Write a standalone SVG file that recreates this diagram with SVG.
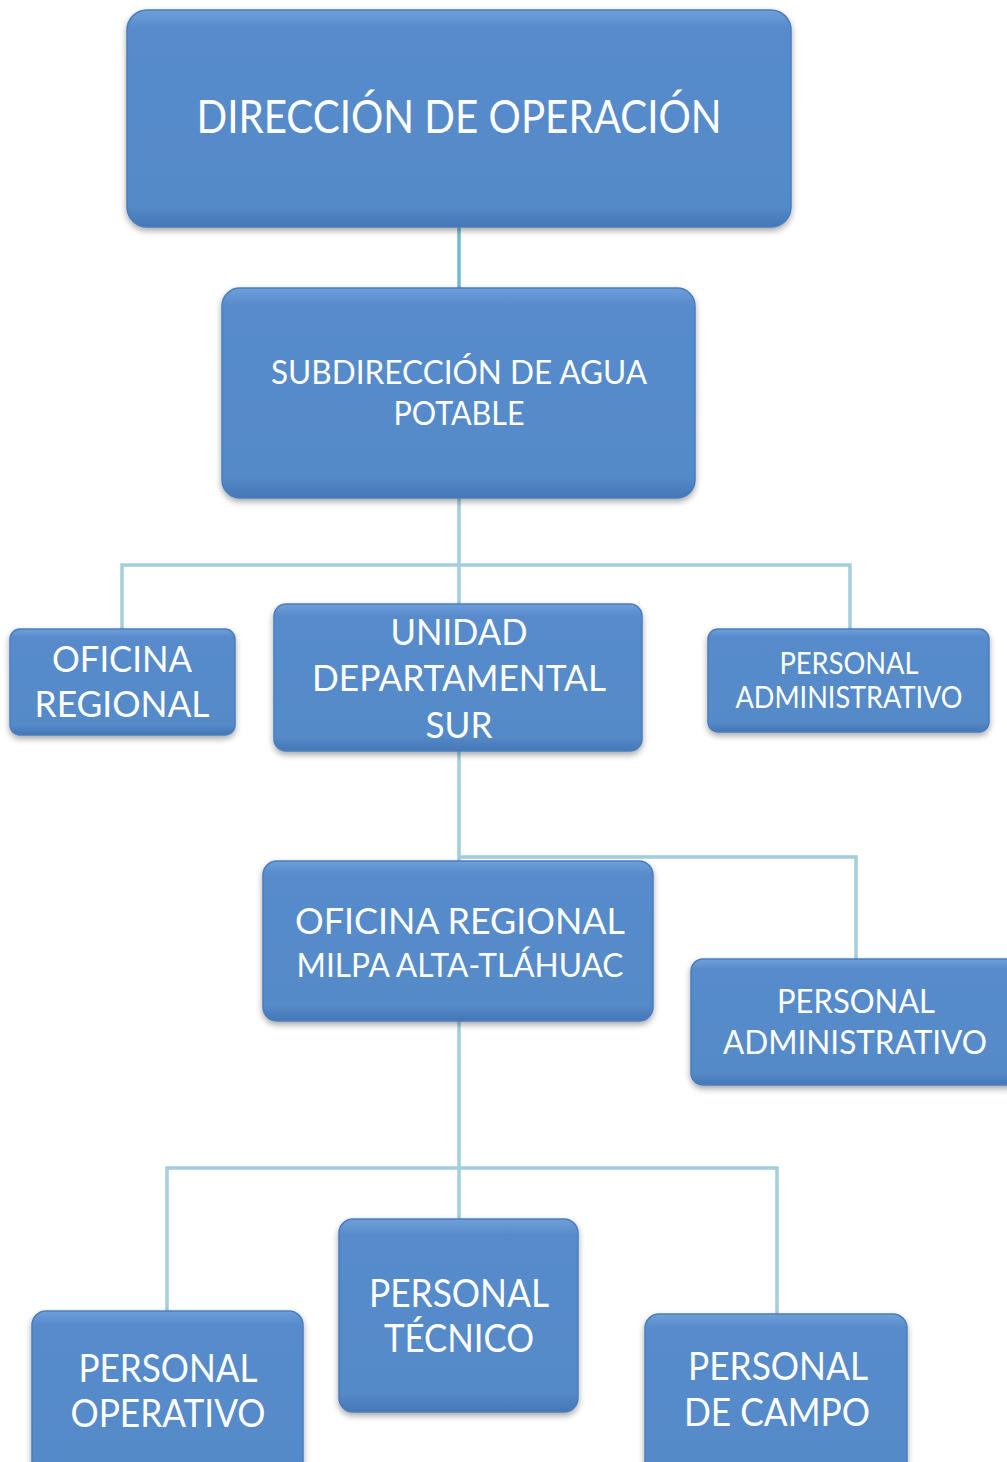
<svg xmlns="http://www.w3.org/2000/svg" width="1007" height="1462" viewBox="0 0 1007 1462">
<defs>
<linearGradient id="g" x1="0" y1="0" x2="0" y2="1">
<stop offset="0" stop-color="#6f9fda"/>
<stop offset="0.08" stop-color="#588bcb"/>
<stop offset="0.9" stop-color="#558ac9"/>
<stop offset="1" stop-color="#4676b5"/>
</linearGradient>
<filter id="sh" x="-10%" y="-10%" width="120%" height="130%">
<feDropShadow dx="0" dy="3" stdDeviation="3" flood-color="#000" flood-opacity="0.35"/>
</filter>
</defs>
<style>
.box{fill:url(#g);stroke:#4a7dbd;stroke-width:1.5;filter:url(#sh)}
.t{fill:#fff;font-family:Lato,"Open Sans","Liberation Sans",sans-serif;text-anchor:middle}
.c{fill:none;stroke:#a3cedd;stroke-width:3.5}
</style>
<rect width="1007" height="1462" fill="#fff"/>
<g id="connectors">
<path class="c" style="stroke:#6fbccc" d="M459 227V288"/>
<path class="c" d="M459 498V604M122 629V565H850V629"/>
<path class="c" d="M459 751V861M459 857H856V959"/>
<path class="c" d="M459 1021V1219M167 1311V1168H777V1314"/>
</g>
<g id="n1"><rect class="box" x="127" y="10" width="664" height="217" rx="20"/>
<text class="t" x="459" y="133" font-size="46" textLength="525" lengthAdjust="spacingAndGlyphs">DIRECCIÓN DE OPERACIÓN</text></g>
<g id="n2"><rect class="box" x="222" y="288" width="473" height="210" rx="18"/>
<text class="t" x="459" y="384" font-size="32" textLength="376" lengthAdjust="spacingAndGlyphs">SUBDIRECCIÓN DE AGUA</text>
<text class="t" x="459" y="425" font-size="32" textLength="131" lengthAdjust="spacingAndGlyphs">POTABLE</text></g>
<g id="n3"><rect class="box" x="10" y="629" width="225" height="106" rx="10"/>
<text class="t" x="122" y="672" font-size="36" textLength="140" lengthAdjust="spacingAndGlyphs">OFICINA</text>
<text class="t" x="122" y="717" font-size="36" textLength="175" lengthAdjust="spacingAndGlyphs">REGIONAL</text></g>
<g id="n4"><rect class="box" x="274" y="604" width="368" height="147" rx="12"/>
<text class="t" x="459" y="645" font-size="36" textLength="137" lengthAdjust="spacingAndGlyphs">UNIDAD</text>
<text class="t" x="459" y="691" font-size="36" textLength="294" lengthAdjust="spacingAndGlyphs">DEPARTAMENTAL</text>
<text class="t" x="459" y="738" font-size="36" textLength="67" lengthAdjust="spacingAndGlyphs">SUR</text></g>
<g id="n5"><rect class="box" x="708" y="629" width="281" height="103" rx="10"/>
<text class="t" x="849" y="674" font-size="30" textLength="139" lengthAdjust="spacingAndGlyphs">PERSONAL</text>
<text class="t" x="849" y="708" font-size="30" textLength="227" lengthAdjust="spacingAndGlyphs">ADMINISTRATIVO</text></g>
<g id="n6"><rect class="box" x="263" y="861" width="390" height="160" rx="14"/>
<text class="t" x="460" y="934" font-size="36" textLength="330" lengthAdjust="spacingAndGlyphs">OFICINA REGIONAL</text>
<text class="t" x="460" y="977" font-size="33" textLength="327" lengthAdjust="spacingAndGlyphs">MILPA ALTA-TLÁHUAC</text></g>
<g id="n7"><rect class="box" x="691" y="959" width="330" height="126" rx="12"/>
<text class="t" x="856" y="1013" font-size="32" textLength="158" lengthAdjust="spacingAndGlyphs">PERSONAL</text>
<text class="t" x="855" y="1054" font-size="32" textLength="264" lengthAdjust="spacingAndGlyphs">ADMINISTRATIVO</text></g>
<g id="n8"><rect class="box" x="32" y="1311" width="271" height="170" rx="14"/>
<text class="t" x="168" y="1382" font-size="38" textLength="179" lengthAdjust="spacingAndGlyphs">PERSONAL</text>
<text class="t" x="168" y="1427" font-size="38" textLength="195" lengthAdjust="spacingAndGlyphs">OPERATIVO</text></g>
<g id="n9"><rect class="box" x="339" y="1219" width="239" height="193" rx="14"/>
<text class="t" x="459" y="1307" font-size="38" textLength="180" lengthAdjust="spacingAndGlyphs">PERSONAL</text>
<text class="t" x="459" y="1352" font-size="38" textLength="150" lengthAdjust="spacingAndGlyphs">TÉCNICO</text></g>
<g id="n10"><rect class="box" x="645" y="1314" width="262" height="170" rx="14"/>
<text class="t" x="778" y="1380" font-size="38" textLength="180" lengthAdjust="spacingAndGlyphs">PERSONAL</text>
<text class="t" x="777" y="1426" font-size="38" textLength="186" lengthAdjust="spacingAndGlyphs">DE CAMPO</text></g>
</svg>
